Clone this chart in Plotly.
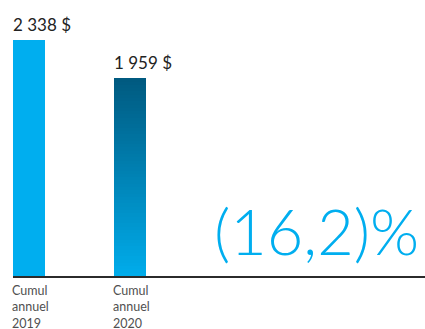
import plotly.graph_objects as go
import numpy as np

categories = ["Cumul annuel 2019", "Cumul annuel 2020"]
tick_labels = ["Cumul<br>annuel<br>2019", "Cumul<br>annuel<br>2020"]
values = [2338, 1959]
value_labels = ["2 338 $", "1 959 $"]
change_label = "(16,2)%"

xpos = [0, 1]
bar_w = 0.317
x0 = -bar_w / 2
ymax = 2734

fig = go.Figure()

# first bar: flat colour
fig.add_trace(go.Bar(x=[xpos[0]], y=[values[0]], width=bar_w,
                     marker=dict(color="#00aeef", line=dict(width=0)),
                     hoverinfo="skip", showlegend=False))

# second bar: vertical gradient made from overlaid bars
N = 60
top = np.array([0x00, 0x5a, 0x80])
bot = np.array([0x00, 0xad, 0xec])
for k in range(N, 0, -1):
    t = k / N
    c = bot + (top - bot) * t
    col = "rgb(%d,%d,%d)" % tuple(c.round().astype(int))
    fig.add_trace(go.Bar(x=[xpos[1]], y=[values[1] * k / N], width=bar_w,
                         marker=dict(color=col, line=dict(width=0)),
                         hoverinfo="skip", showlegend=False))

annotations = []
for i, (v, lab) in enumerate(zip(values, value_labels)):
    annotations.append(dict(x=xpos[i] - bar_w / 2, y=v, xref="x", yref="y",
                            text=lab, showarrow=False, xanchor="left", yanchor="bottom",
                            xshift=-2, yshift=3,
                            font=dict(family="Lato", size=17, color="#222222")))
    annotations.append(dict(x=xpos[i] - bar_w / 2, y=0, xref="x", yref="y",
                            text=tick_labels[i], showarrow=False, xanchor="left", yanchor="top",
                            align="left", xshift=-3, yshift=-5,
                            font=dict(family="Lato", size=12.5, color="#505050")))

annotations.append(dict(x=0.737, y=0.165, xref="paper", yref="paper",
                        text=change_label, showarrow=False, xanchor="center", yanchor="middle",
                        font=dict(family="Lato", size=63, color="#00aeef", weight=300)))

fig.update_layout(
    width=425, height=329,
    margin=dict(l=13, r=0, t=0, b=53),
    paper_bgcolor="white", plot_bgcolor="white",
    barmode="overlay", bargap=0,
    xaxis=dict(range=[x0, x0 + 412 / 101], showgrid=False, zeroline=False,
               showticklabels=False, ticks="", showline=True, linecolor="#2b2b2b", linewidth=2),
    yaxis=dict(range=[0, ymax], visible=False, showgrid=False, zeroline=False),
    annotations=annotations,
)

fig.write_html("out.html")
